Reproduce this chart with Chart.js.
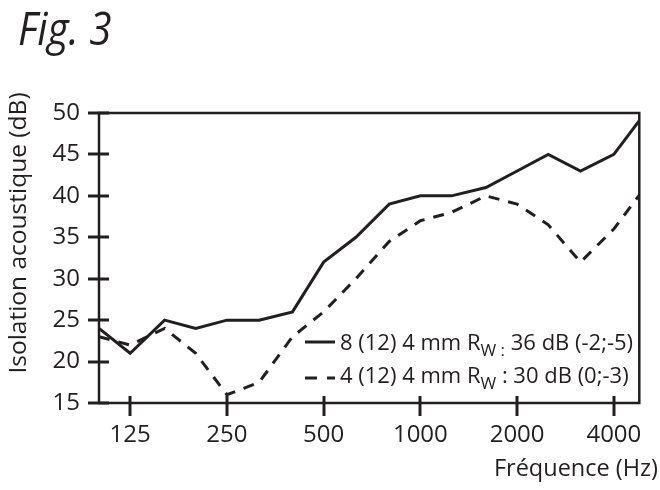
<!DOCTYPE html>
<html>
<head>
<meta charset="utf-8">
<script src="https://cdn.jsdelivr.net/npm/chart.js@4.4.1/dist/chart.umd.min.js"></script>
<style>
  html, body { margin: 0; padding: 0; background: #fff; }
  #wrap { width: 660px; height: 490px; }
</style>
</head>
<body>
<div id="wrap"><canvas id="fig3" width="660" height="490"></canvas></div>
<script>
// bandes de tiers d'octave (Hz)
const frequencies = [100, 125, 160, 200, 250, 315, 400, 500, 630, 800, 1000, 1250, 1600, 2000, 2500, 3150, 4000, 5000];
// 8 (12) 4 mm
const isolation8 = [24, 21, 25, 24, 25, 25, 26, 32, 35, 39, 40, 40, 41, 43, 45, 43, 45, 50];
// 4 (12) 4 mm
const isolation4 = [23, 22, 24, 21, 16, 17.5, 23, 26, 30, 34.5, 37, 38, 40, 39, 36.5, 32, 36, 41];

const xTicks = [125, 250, 500, 1000, 2000, 4000];
const yTicks = [15, 20, 25, 30, 35, 40, 45, 50];

const figTitle = "Fig. 3";
const xTitle = "Fréquence (Hz)";
const yTitle = "Isolation acoustique (dB)";
// texte de légende : [texte, indice ?]
const legend8 = [["8 (12) 4 mm R", false], ["W :", true], [" 36 dB (-2;-5)", false]];
const legend4 = [["4 (12) 4 mm R", false], ["W", true], [" : 30 dB (0;-3)", false]];

const INK = "#231f20";
const FONT = "'Open Sans', 'Noto Sans', sans-serif";

// cadre, graduations, titres et légende
const decorPlugin = {
  id: "decor",
  afterDraw(chart) {
    const ctx = chart.ctx;
    const a = chart.chartArea;
    const xs = chart.scales.x;
    const ys = chart.scales.y;
    ctx.save();
    ctx.strokeStyle = INK;
    ctx.fillStyle = INK;

    // cadre
    ctx.lineWidth = 2.5;
    ctx.strokeRect(a.left, a.top, a.right - a.left, a.bottom - a.top);

    // graduations
    ctx.lineWidth = 3;
    xTicks.forEach((v) => {
      const px = Math.round(xs.getPixelForValue(v));
      ctx.beginPath();
      ctx.moveTo(px, a.bottom - 7);
      ctx.lineTo(px, a.bottom + 13);
      ctx.stroke();
    });
    yTicks.forEach((v) => {
      const py = Math.round(ys.getPixelForValue(v));
      ctx.beginPath();
      ctx.moveTo(a.left - 11, py);
      ctx.lineTo(a.left + 10, py);
      ctx.stroke();
    });

    // titre (police plus étroite dans l'original)
    ctx.save();
    ctx.translate(18, 45);
    ctx.scale(0.9, 1);
    ctx.font = "italic 45px " + FONT;
    ctx.textAlign = "left";
    ctx.textBaseline = "alphabetic";
    ctx.fillText(figTitle, 0, 0);
    ctx.restore();

    // titre axe x
    ctx.font = "23.5px " + FONT;
    ctx.textAlign = "right";
    ctx.textBaseline = "alphabetic";
    ctx.fillText(xTitle, 658, 476);

    // titre axe y
    ctx.save();
    ctx.translate(26, 233);
    ctx.rotate(-Math.PI / 2);
    ctx.font = "24.5px " + FONT;
    ctx.textAlign = "center";
    ctx.fillText(yTitle, 0, 0);
    ctx.restore();

    // légende
    const lx = a.left + 206;
    drawLegendRow(ctx, lx, a.bottom - 61, a.bottom - 53, [], legend8);
    drawLegendRow(ctx, lx, a.bottom - 25, a.bottom - 20, [12, 10], legend4);

    ctx.restore();
  },
};

function drawLegendRow(ctx, x, lineY, baseY, dash, parts) {
  ctx.save();
  ctx.lineWidth = 3;
  ctx.setLineDash(dash);
  ctx.beginPath();
  ctx.moveTo(x, lineY);
  ctx.lineTo(x + 30, lineY);
  ctx.stroke();
  ctx.restore();

  let tx = x + 35;
  ctx.textAlign = "left";
  ctx.textBaseline = "alphabetic";
  parts.forEach(([txt, sub]) => {
    ctx.font = (sub ? "17px " : "22px ") + FONT;
    ctx.fillText(txt, tx, baseY + (sub ? 6 : 0));
    tx += ctx.measureText(txt).width;
  });
}

const ctx = document.getElementById("fig3").getContext("2d");
new Chart(ctx, {
  type: "line",
  data: {
    datasets: [
      {
        label: "8 (12) 4 mm",
        data: frequencies.map((f, i) => ({ x: f, y: isolation8[i] })),
        borderColor: INK,
        borderWidth: 3,
        pointRadius: 0,
        fill: false,
      },
      {
        label: "4 (12) 4 mm",
        data: frequencies.map((f, i) => ({ x: f, y: isolation4[i] })),
        borderColor: INK,
        borderWidth: 3,
        borderDash: [11, 9],
        pointRadius: 0,
        fill: false,
      },
    ],
  },
  options: {
    responsive: false,
    animation: false,
    devicePixelRatio: 1,
    layout: { padding: { top: 113, right: 15, left: 0, bottom: 0 } },
    plugins: {
      legend: { display: false },
      tooltip: { enabled: false },
    },
    scales: {
      x: {
        type: "logarithmic",
        min: 100,
        max: 4800,
        grid: { display: false, drawTicks: false },
        border: { display: false },
        afterBuildTicks: (scale) => {
          scale.ticks = xTicks.map((v) => ({ value: v }));
        },
        afterFit: (scale) => {
          scale.height = 87;
        },
        ticks: {
          autoSkip: false,
          maxRotation: 0,
          padding: 18,
          color: INK,
          font: { family: FONT, size: 24 },
          callback: (v) => String(v),
        },
      },
      y: {
        min: 15,
        max: 50,
        grid: { display: false, drawTicks: false },
        border: { display: false },
        afterBuildTicks: (scale) => {
          scale.ticks = yTicks.map((v) => ({ value: v }));
        },
        afterFit: (scale) => {
          scale.width = 99;
        },
        ticks: {
          padding: 19,
          color: INK,
          font: { family: FONT, size: 24 },
        },
      },
    },
  },
  plugins: [decorPlugin],
});
</script>
</body>
</html>
